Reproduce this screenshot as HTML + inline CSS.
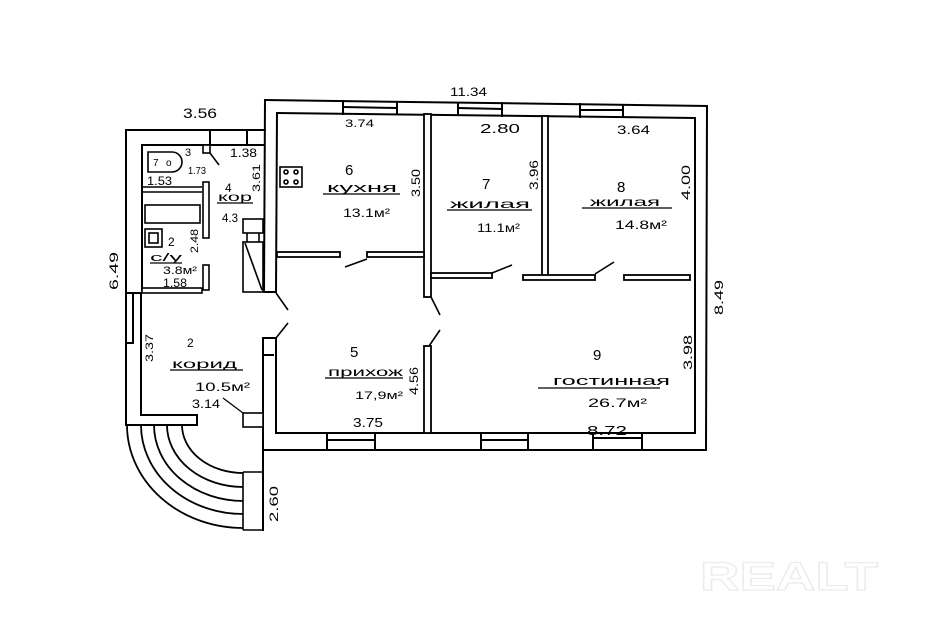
<!DOCTYPE html>
<html><head><meta charset="utf-8"><style>
html,body{margin:0;padding:0;background:#fff;}
svg{display:block;}
text{font-family:"Liberation Sans",sans-serif;fill:#000;}
</style></head><body>
<svg width="925" height="640" viewBox="0 0 925 640" xmlns="http://www.w3.org/2000/svg">
<rect width="925" height="640" fill="#fff"/>
<g stroke="#000" stroke-width="2" fill="none" stroke-linecap="square">
<line x1="265" y1="100" x2="707" y2="106"/>
<line x1="277" y1="113" x2="695" y2="118"/>
<line x1="707" y1="106" x2="706" y2="450"/>
<line x1="695" y1="118" x2="695" y2="433"/>
<line x1="263" y1="450" x2="706" y2="450"/>
<line x1="276" y1="433" x2="695" y2="433"/>
<line x1="265" y1="100" x2="264" y2="292"/>
<line x1="277" y1="113" x2="276" y2="292"/>
<line x1="264" y1="292" x2="276" y2="292"/>
<line x1="263" y1="338" x2="263" y2="530"/>
<line x1="276" y1="338" x2="276" y2="433"/>
<line x1="263" y1="338" x2="276" y2="338"/>
<line x1="263" y1="355" x2="273" y2="355"/>
<line x1="343" y1="101" x2="343" y2="114"/><line x1="397" y1="102" x2="397" y2="114"/><line x1="343" y1="107" x2="397" y2="108"/>
<line x1="458" y1="103" x2="458" y2="115"/><line x1="502" y1="103" x2="502" y2="116"/><line x1="458" y1="108" x2="502" y2="109"/>
<line x1="580" y1="104" x2="580" y2="117"/><line x1="623" y1="105" x2="623" y2="117"/><line x1="580" y1="110" x2="623" y2="110"/>
<line x1="327" y1="433" x2="327" y2="450"/><line x1="375" y1="433" x2="375" y2="450"/><line x1="327" y1="440" x2="375" y2="440"/>
<line x1="481" y1="433" x2="481" y2="450"/><line x1="528" y1="433" x2="528" y2="450"/><line x1="481" y1="440" x2="528" y2="440"/>
<line x1="593" y1="433" x2="593" y2="450"/><line x1="642" y1="433" x2="642" y2="450"/><line x1="593" y1="438" x2="642" y2="438"/>
</g>
<g stroke="#000" stroke-width="1.8" fill="#fff">
<rect x="424" y="114" width="7" height="183"/>
<rect x="424" y="346" width="7" height="87"/>
<rect x="542" y="116" width="6" height="160"/>
<rect x="277" y="252" width="63" height="5"/>
<rect x="367" y="252" width="57" height="5"/>
<rect x="431" y="273" width="61" height="5"/>
<rect x="523" y="275" width="72" height="5"/>
<rect x="624" y="275" width="66" height="5"/>
</g>
<g stroke="#000" stroke-width="1.6" fill="none">
<line x1="345" y1="267" x2="367" y2="259"/>
<line x1="492" y1="273" x2="512" y2="265"/>
<line x1="595" y1="274" x2="614" y2="262"/>
<line x1="276" y1="293" x2="288" y2="310"/>
<line x1="276" y1="338" x2="288" y2="323"/>
<line x1="431" y1="297" x2="440" y2="315"/>
<line x1="429" y1="346" x2="440" y2="330"/>
<rect x="280" y="167" width="22" height="20"/>
<circle cx="286" cy="172" r="2"/><circle cx="296" cy="172" r="2"/>
<circle cx="286" cy="182" r="2"/><circle cx="296" cy="182" r="2"/>
</g>
<g stroke="#000" stroke-width="2" fill="none" stroke-linecap="square">
<line x1="126" y1="130" x2="265" y2="130"/>
<line x1="142" y1="145" x2="264" y2="145"/>
<line x1="210" y1="130" x2="210" y2="145"/>
<line x1="247" y1="130" x2="247" y2="145"/>
<line x1="126" y1="130" x2="126" y2="425"/>
<line x1="142" y1="145" x2="142" y2="290"/>
<line x1="141" y1="293" x2="141" y2="415"/>
<line x1="126" y1="425" x2="197" y2="425"/>
<line x1="141" y1="415" x2="197" y2="415"/>
<line x1="197" y1="415" x2="197" y2="425"/>
<line x1="126" y1="293" x2="141" y2="293"/>
<line x1="133" y1="293" x2="133" y2="343"/>
<line x1="126" y1="343" x2="133" y2="343"/>
</g>
<g stroke="#000" stroke-width="1.6" fill="#fff">
<line x1="142" y1="187" x2="202" y2="187"/>
<line x1="142" y1="192" x2="202" y2="192"/>
<rect x="142" y="288" width="60" height="5"/>
<rect x="203" y="145" width="7" height="8"/>
<line x1="210" y1="153" x2="219" y2="165" fill="none"/>
<rect x="203" y="182" width="6" height="56"/>
<rect x="203" y="265" width="6" height="25"/>
<path d="M148 152 H172 A10 10 0 0 1 172 172 H148 Z"/>
<rect x="145" y="205" width="55" height="18"/>
<rect x="145" y="229" width="17" height="18"/>
<rect x="149" y="233" width="9" height="10"/>
<rect x="243" y="219" width="20" height="14"/>
<line x1="247" y1="233" x2="247" y2="242"/><line x1="259" y1="233" x2="259" y2="242"/>
<rect x="243" y="242" width="20" height="50"/>
<line x1="245" y1="243" x2="262" y2="290"/>
<rect x="243" y="413" width="20" height="14"/>
<line x1="243" y1="472" x2="263" y2="472"/>
<line x1="243" y1="472" x2="243" y2="530"/>
<line x1="243" y1="530" x2="263" y2="530"/>
</g>
<g stroke="#000" stroke-width="1.8" fill="none">
<path d="M127 425 A116 103 0 0 0 243 528"/>
<path d="M141 425 A102 89 0 0 0 243 514"/>
<path d="M154 425 A89 76 0 0 0 243 501"/>
<path d="M167 425 A76 62 0 0 0 243 487"/>
<path d="M182 425 A61 48 0 0 0 243 473"/>
<line x1="223" y1="398" x2="243" y2="413" stroke-width="1.3"/>
<line x1="323" y1="194" x2="400" y2="194" stroke-width="1.3"/>
<line x1="447" y1="210" x2="532" y2="210" stroke-width="1.3"/>
<line x1="582" y1="208" x2="672" y2="208" stroke-width="1.3"/>
<line x1="325" y1="378" x2="403" y2="378" stroke-width="1.3"/>
<line x1="538" y1="388" x2="660" y2="388" stroke-width="1.3"/>
<line x1="217" y1="203" x2="253" y2="203" stroke-width="1.3"/>
<line x1="150" y1="263" x2="182" y2="263" stroke-width="1.3"/>
<line x1="170" y1="370" x2="243" y2="370" stroke-width="1.3"/>
</g>
<g font-size="12">
<text x="183" y="118" textLength="34" lengthAdjust="spacingAndGlyphs" font-size="14">3.56</text>
<text x="450" y="96" textLength="37" lengthAdjust="spacingAndGlyphs">11.34</text>
<text x="345" y="127" textLength="29" lengthAdjust="spacingAndGlyphs" font-size="11">3.74</text>
<text x="480" y="133" textLength="40" lengthAdjust="spacingAndGlyphs" font-size="13">2.80</text>
<text x="617" y="134" textLength="33" lengthAdjust="spacingAndGlyphs">3.64</text>
<text x="345" y="175" font-size="15">6</text>
<text x="327" y="192" textLength="70" lengthAdjust="spacingAndGlyphs" font-size="13">кухня</text>
<text x="343" y="217" textLength="47" lengthAdjust="spacingAndGlyphs" font-size="12">13.1м²</text>
<text x="482" y="189" font-size="15">7</text>
<text x="450" y="208" textLength="80" lengthAdjust="spacingAndGlyphs" font-size="12">жилая</text>
<text x="477" y="232" textLength="43" lengthAdjust="spacingAndGlyphs" font-size="12">11.1м²</text>
<text x="617" y="192" font-size="15">8</text>
<text x="590" y="206" textLength="70" lengthAdjust="spacingAndGlyphs" font-size="12">жилая</text>
<text x="615" y="229" textLength="52" lengthAdjust="spacingAndGlyphs" font-size="12">14.8м²</text>
<text x="350" y="357" font-size="15">5</text>
<text x="328" y="376" textLength="75" lengthAdjust="spacingAndGlyphs" font-size="12">прихож</text>
<text x="355" y="399" textLength="48" lengthAdjust="spacingAndGlyphs" font-size="11">17,9м²</text>
<text x="353" y="427" textLength="30" lengthAdjust="spacingAndGlyphs" font-size="13">3.75</text>
<text x="593" y="360" font-size="15">9</text>
<text x="553" y="385" textLength="117" lengthAdjust="spacingAndGlyphs" font-size="13">гостинная</text>
<text x="588" y="407" textLength="59" lengthAdjust="spacingAndGlyphs" font-size="12">26.7м²</text>
<text x="587" y="435" textLength="40" lengthAdjust="spacingAndGlyphs" font-size="13">8.72</text>
<text x="185" y="156" font-size="11">3</text>
<text x="188" y="174" textLength="18" lengthAdjust="spacingAndGlyphs" font-size="10">1.73</text>
<text x="153" y="166" font-size="10">7</text>
<text x="166" y="166" font-size="10">o</text>
<text x="147" y="185" textLength="25" lengthAdjust="spacingAndGlyphs" font-size="12">1.53</text>
<text x="230" y="157" textLength="27" lengthAdjust="spacingAndGlyphs" font-size="12">1.38</text>
<text x="225" y="192" font-size="12">4</text>
<text x="218" y="201" textLength="34" lengthAdjust="spacingAndGlyphs" font-size="12">кор</text>
<text x="222" y="222" textLength="16" lengthAdjust="spacingAndGlyphs" font-size="12">4.3</text>
<text x="168" y="246" font-size="12">2</text>
<text x="150" y="261" textLength="32" lengthAdjust="spacingAndGlyphs" font-size="11">с/у</text>
<text x="163" y="274" textLength="34" lengthAdjust="spacingAndGlyphs" font-size="11">3.8м²</text>
<text x="163" y="287" textLength="24" lengthAdjust="spacingAndGlyphs" font-size="12">1.58</text>
<text x="187" y="347" font-size="12">2</text>
<text x="172" y="368" textLength="65" lengthAdjust="spacingAndGlyphs" font-size="12">корид</text>
<text x="195" y="391" textLength="55" lengthAdjust="spacingAndGlyphs" font-size="12">10.5м²</text>
<text x="192" y="408" textLength="28" lengthAdjust="spacingAndGlyphs" font-size="12">3.14</text>
</g>
<g font-size="12">
<text transform="translate(420,197) rotate(-90)" textLength="28" lengthAdjust="spacingAndGlyphs">3.50</text>
<text transform="translate(538,190) rotate(-90)" textLength="30" lengthAdjust="spacingAndGlyphs">3.96</text>
<text transform="translate(690,200) rotate(-90)" textLength="35" lengthAdjust="spacingAndGlyphs">4.00</text>
<text transform="translate(418,395) rotate(-90)" textLength="28" lengthAdjust="spacingAndGlyphs">4.56</text>
<text transform="translate(692,370) rotate(-90)" textLength="35" lengthAdjust="spacingAndGlyphs">3.98</text>
<text transform="translate(723,315) rotate(-90)" textLength="35" lengthAdjust="spacingAndGlyphs">8.49</text>
<text transform="translate(260,192) rotate(-90)" textLength="28" lengthAdjust="spacingAndGlyphs" font-size="11">3.61</text>
<text transform="translate(198,253) rotate(-90)" textLength="24" lengthAdjust="spacingAndGlyphs" font-size="11">2.48</text>
<text transform="translate(118,290) rotate(-90)" textLength="38" lengthAdjust="spacingAndGlyphs">6.49</text>
<text transform="translate(153,362) rotate(-90)" textLength="28" lengthAdjust="spacingAndGlyphs" font-size="11">3.37</text>
<text transform="translate(278,522) rotate(-90)" textLength="36" lengthAdjust="spacingAndGlyphs">2.60</text>
</g>
<text x="700" y="590" font-size="40" font-weight="bold" stroke="#ececec" stroke-width="1.2" textLength="178" lengthAdjust="spacingAndGlyphs" style="fill:#fff">REALT</text>
</svg>
</body></html>
